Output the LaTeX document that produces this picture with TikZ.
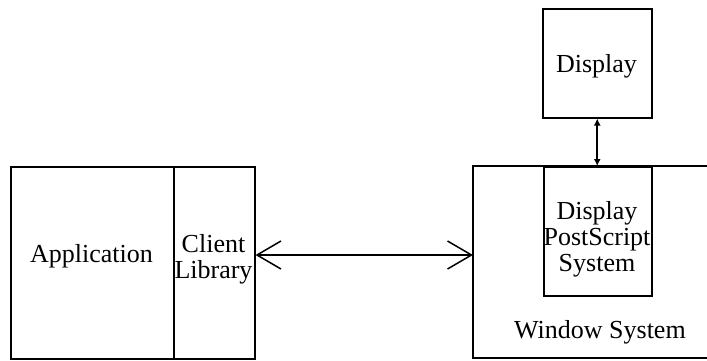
\documentclass[tikz,border=0pt]{standalone}
\usepackage{fontspec}
\setmainfont{Liberation Serif}
\usetikzlibrary{arrows.meta}
\begin{document}
\begin{tikzpicture}[x=1pt,y=-1pt, line width=1.5pt,
  box/.style={draw, inner sep=0pt, anchor=north west},
  lbl/.style={font=\fontsize{26}{26}\selectfont, align=center, inner sep=0pt},
  bigarrow/.style={{Straight Barb[length=24pt,width=28pt,line width=1.5pt]}-{Straight Barb[length=24pt,width=28pt,line width=1.5pt]}},
  smallarrow/.style={line width=1.8pt, {Latex[length=7pt,width=7pt]}-{Latex[length=7pt,width=7pt]}}]
\useasboundingbox (0,0) rectangle (707,360);
% left: application + client library
\node[box, minimum width=163pt, minimum height=192pt] (app) at (10,166) {};
\node[box, minimum width=81pt, minimum height=192pt] (lib) at (173,166) {};
\node[lbl] (apptxt) at (91.5,256) {Application};
\node[lbl] (libtxt) at (213.5,259) {Client\\Library};
% right: window system (open on the right)
\coordinate (wtl) at (473,166);
\coordinate (wbl) at (473,358);
\coordinate (wtr) at (712,166);
\coordinate (wbr) at (712,358);
\draw (wtr) -- (wtl) -- (wbl) -- (wbr);
\coordinate (win) at (473,255);
\node[box, minimum width=108pt, minimum height=129pt] (dps) at (543,166) {};
\node[lbl] (dpstxt) at (597,239) {Display\\PostScript\\System};
\node[lbl] (wintxt) at (600,332) {Window System};
% display
\node[box, minimum width=109pt, minimum height=109pt] (disp) at (542,8) {};
\node[lbl] (disptxt) at (596.5,66) {Display};
% connectors
\draw[bigarrow] (lib.east |- win) -- (win);
\draw[smallarrow] (disp.south) -- (disp.south |- dps.north);
\end{tikzpicture}
\end{document}
